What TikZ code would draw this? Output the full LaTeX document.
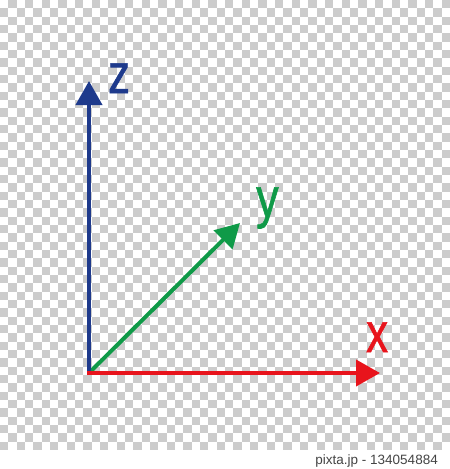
\documentclass[tikz,border=0pt]{standalone}
\usepackage{fontspec}
\setmainfont{Liberation Sans}
\newfontfamily\lblfont[FakeBold=1.2]{Liberation Sans}
\usetikzlibrary{arrows.meta}
\definecolor{chk}{HTML}{CCCCCC}
\definecolor{zblue}{HTML}{1E3A8C}
\definecolor{yellowgreen}{HTML}{0F9A48}
\definecolor{xred}{HTML}{E8141C}
\definecolor{wmgrey}{HTML}{444444}
\tikzset{
  axis/.style={line width=4pt},
  lbl/.style={inner sep=0pt, anchor=base west, font=\lblfont\fontsize{56}{56}\selectfont},
  tip/.style={-{Triangle[length=24pt,width=26pt]}},
}
\begin{document}
\begin{tikzpicture}[x=1pt,y=-1pt]
\useasboundingbox (0,0) rectangle (450,469);
\fill[white] (0,0) rectangle (450,469);
% checkerboard
\foreach \r in {0,...,53}{
  \foreach \c in {0,...,53}{
    \pgfmathtruncatemacro{\p}{mod(\r+\c,2)}
    \ifnum\p=1
      \fill[chk] ({\c*8.33333},{\r*8.33333}) rectangle ({(\c+1)*8.33333},{(\r+1)*8.33333});
    \fi
  }
}
\coordinate (O) at (89,373);
\coordinate (Z) at (89,81);
\coordinate (X) at (380,373);
\coordinate (Y) at (240,223);
\draw[axis,yellowgreen,tip] (O) -- (Y);
\draw[axis,zblue,tip] (89,375) -- (Z);
\draw[axis,xred,tip] (87,373) -- (X);
\node[lbl,text=zblue] (lz) at (108,93) {\scalebox{0.78}[1]{z}};
\node[lbl,text=yellowgreen] (ly) at (256,217) {\scalebox{0.8}[1]{y}};
\node[lbl,text=xred] (lx) at (366,352) {\scalebox{0.78}[1]{x}};
\node[inner sep=0pt, anchor=base east, text=wmgrey, font=\fontsize{13.5}{13.5}\selectfont] (wm) at (438,464) {pixta.jp - 134054884};
\end{tikzpicture}
\end{document}
